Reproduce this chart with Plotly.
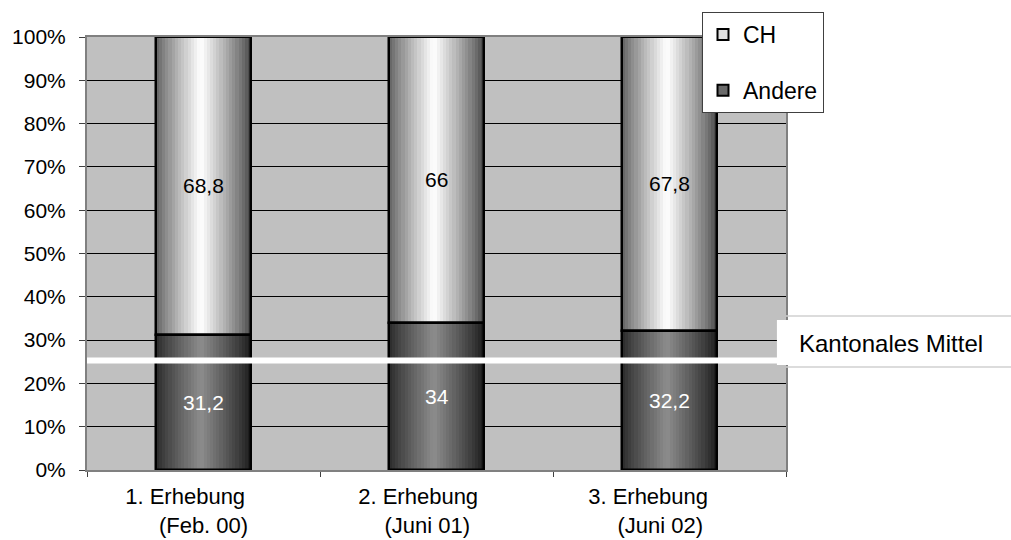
import plotly.graph_objects as go

# Survey rounds and share of respondents (percent, stacked to 100)
categories = ["1. Erhebung", "2. Erhebung", "3. Erhebung"]
periods = ["(Feb. 00)", "(Juni 01)", "(Juni 02)"]
andere = [31.2, 34.0, 32.2]
ch = [68.8, 66.0, 67.8]
kantonales_mittel = 25.3
y_ticks = list(range(0, 101, 10))

FONT = "Liberation Sans, Arial, sans-serif"
BAR_W = 0.41
N_STRIPS = 30
NBSP = "\u00a0"

# horizontal padding (non-breaking spaces) that nudges each tick-label line
line1_pad = [6, 6, 7]
line2_pad = [0, 3, 3]


def shade(t, dark, light, peak=0.47, gamma=0.85):
    g = max(0.0, 1.0 - abs(t - peak) / max(peak, 1.0 - peak))
    v = int(round(dark + (light - dark) * g ** gamma))
    return f"rgb({v},{v},{v})"


def fmt(v):
    return f"{v:g}".replace(".", ",")


fig = go.Figure()

# cylinder-like shading: each strip runs from its left edge to the bar's right edge,
# later strips cover earlier ones so there are no seams
step = BAR_W / N_STRIPS
for i in range(N_STRIPS):
    t = (i + 0.5) / N_STRIPS
    off = -BAR_W / 2 + i * step
    w = BAR_W - i * step
    fig.add_bar(x=categories, y=andere, base=[0] * len(andere), offset=off, width=w,
                marker=dict(color=shade(t, 24, 140), line=dict(width=0)),
                showlegend=False, hoverinfo="skip")
    fig.add_bar(x=categories, y=ch, base=andere, offset=off, width=w,
                marker=dict(color=shade(t, 68, 255), line=dict(width=0)),
                showlegend=False, hoverinfo="skip")

# black outlines of the two segments
for vals, base in ((andere, [0] * len(andere)), (ch, andere)):
    fig.add_bar(x=categories, y=vals, base=base, offset=-BAR_W / 2, width=BAR_W,
                marker=dict(color="rgba(0,0,0,0)", line=dict(color="black", width=2.5)),
                showlegend=False, hoverinfo="skip")

# legend entries
fig.add_scatter(x=[None], y=[None], mode="markers", name="CH", legendgroup="ch",
                marker=dict(symbol="square", size=11, color="#e0e0e0",
                            line=dict(color="black", width=2)))
fig.add_scatter(x=[None], y=[None], mode="markers", name="Andere", legendgroup="andere",
                marker=dict(symbol="square", size=11, color="#6a6a6a",
                            line=dict(color="black", width=2)))

annotations = []
for i, cat in enumerate(categories):
    annotations.append(dict(x=cat, y=andere[i] + ch[i] / 2, xref="x", yref="y",
                            text=fmt(ch[i]), showarrow=False,
                            font=dict(family=FONT, size=21, color="black")))
    annotations.append(dict(x=cat, y=andere[i] / 2, xref="x", yref="y",
                            text=fmt(andere[i]), showarrow=False,
                            font=dict(family=FONT, size=21, color="white")))

annotations.append(dict(x=(797 - 87) / 699, y=0.293, xref="paper", yref="paper",
                        xanchor="left", yanchor="middle", text="Kantonales Mittel",
                        showarrow=False, font=dict(family=FONT, size=24, color="black")))

shapes = [
    # cantonal average line across the plot
    dict(type="line", xref="paper", yref="y", x0=0, x1=0.988,
         y0=kantonales_mittel, y1=kantonales_mittel,
         line=dict(color="white", width=6), layer="above"),
    # label box
    dict(type="rect", xref="paper", yref="paper", x0=0.987, x1=1.33, y0=0.2425, y1=0.3464,
         fillcolor="white", line=dict(width=0), layer="above"),
    dict(type="line", xref="paper", yref="paper", x0=1.0, x1=1.33, y0=0.3557, y1=0.3557,
         line=dict(color="#d0d0d0", width=1.5)),
    dict(type="line", xref="paper", yref="paper", x0=1.0, x1=1.33, y0=0.2379, y1=0.2379,
         line=dict(color="#d0d0d0", width=1.5)),
]

ticktext = [c + NBSP * p1 + "<br>" + per + NBSP * p2
            for c, per, p1, p2 in zip(categories, periods, line1_pad, line2_pad)]

fig.update_layout(
    width=1011, height=540,
    margin=dict(l=87, r=225, t=37, b=70),
    paper_bgcolor="white", plot_bgcolor="#c0c0c0",
    barmode="overlay", bargap=0,
    font=dict(family=FONT, size=20, color="black"),
    shapes=shapes, annotations=annotations,
    legend=dict(x=(702 - 87) / 699, y=1.0577, xanchor="left", yanchor="top",
                bgcolor="white", bordercolor="#404040", borderwidth=1,
                font=dict(family=FONT, size=23, color="black"),
                traceorder="grouped", tracegroupgap=23),
    xaxis=dict(type="category", range=[-0.5, 2.5], tickmode="array",
               tickvals=categories, ticktext=ticktext, tickson="boundaries",
               ticks="outside", ticklen=5, tickcolor="#404040", ticklabelstandoff=6,
               showline=True, linecolor="#808080", linewidth=2, mirror=True,
               showgrid=False, automargin=False,
               tickfont=dict(family=FONT, size=22, color="black")),
    yaxis=dict(range=[0, 100], tickmode="array", tickvals=y_ticks,
               ticktext=[f"{v}%" for v in y_ticks], ticks="outside", ticklen=6,
               tickcolor="#404040", ticklabelstandoff=9, automargin=False,
               showgrid=True, gridcolor="black", gridwidth=1, zeroline=False,
               showline=True, linecolor="#808080", linewidth=2, mirror=True,
               tickfont=dict(family=FONT, size=21, color="black")),
)

fig.write_html("out.html")
